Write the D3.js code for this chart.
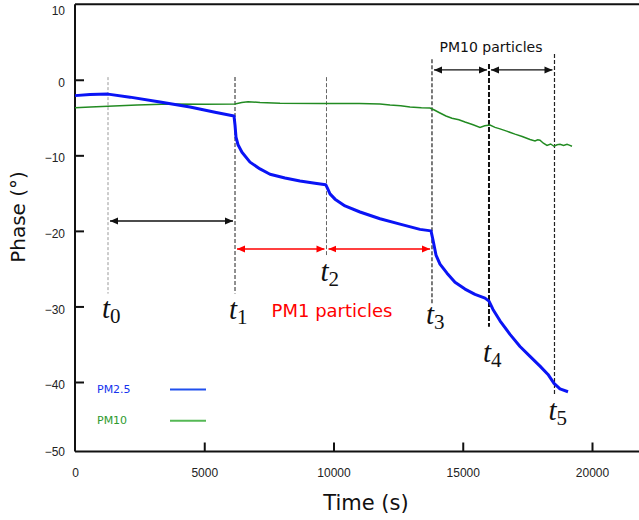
<!DOCTYPE html>
<html><head><meta charset="utf-8">
<script src="https://cdn.jsdelivr.net/npm/d3@7"></script>
<style>body{margin:0;background:#fff}svg{display:block}</style>
</head><body>
<script>
// ---- data ----
const xTicks = [0, 5000, 10000, 15000, 20000];
const yTicks = [10, 0, -10, -20, -30, -40, -50];
const pm25 = [
 [0,-2.1],[580,-1.96],[1277,-1.9],[2128,-2.3],[3288,-2.95],[4449,-3.6],[5416,-4.3],[6151,-4.8],
 [6190,-6.0],[6228,-7.6],[6306,-8.6],[6460,-9.6],[6770,-10.9],[7157,-11.8],[7544,-12.5],[8124,-13.0],
 [8704,-13.4],[9284,-13.7],[9700,-13.9],[9760,-14.3],[9865,-15.1],[10058,-15.8],[10445,-16.7],
 [11025,-17.5],[11799,-18.4],[12573,-19.1],[13346,-19.8],[13772,-20.0],[13849,-21.2],[13965,-23.2],
 [14120,-24.4],[14391,-25.6],[14700,-26.8],[15087,-27.7],[15474,-28.4],[15861,-28.9],[16015,-29.3],
 [16170,-30.4],[16441,-31.9],[16828,-33.7],[17215,-35.3],[17602,-36.6],[17988,-37.9],[18298,-39.0],
 [18530,-40.2],[18762,-41.0],[19072,-41.4]
];
const pm10 = [
 [0,-3.7],[600,-3.6],[1277,-3.5],[2400,-3.35],[3675,-3.2],[5000,-3.25],[6190,-3.2],[6450,-3.0],
 [6692,-2.9],[7157,-3.0],[7930,-3.1],[9478,-3.15],[11000,-3.15],[11799,-3.2],[12186,-3.35],
 [12600,-3.45],[12959,-3.6],[13400,-3.7],[13733,-3.75],[13900,-4.0],[14120,-4.4],[14350,-4.8],
 [14584,-5.1],[14850,-5.3],[15087,-5.6],[15400,-5.95],[15667,-6.3],[15850,-6.1],[16054,-6.0],
 [16250,-6.3],[16441,-6.5],[16700,-6.8],[17021,-7.2],[17300,-7.5],[17602,-7.9],[17795,-8.1],
 [17900,-7.95],[17988,-8.0],[18120,-8.4],[18259,-8.7],[18400,-8.5],[18530,-8.8],[18650,-8.6],
 [18762,-8.55],[18900,-8.7],[19033,-8.55],[19120,-8.65],[19226,-8.8]
];
const eventNames = ["0","1","2","3","4","5"];
const eventTimes = [1277, 6190, 9729, 13810, 16015, 18549];
const eventTop = [0.35, 0.35, 0.35, 2.7, 2.1, 3.4];
const eventBottom = [-28.3, -28.3, -23.2, -29.6, -32.7, -41.8];
const labelPhase = [-31.5, -31.6, -26.6, -32.3, -37.3, -45.5];
const legendNames = ["PM2.5", "PM10"];

// ---- layout ----
const W = 639, H = 520;
const svg = d3.select("body").append("svg").attr("width", W).attr("height", H);
const x = d3.scaleLinear().domain([0, 20000]).range([75, 592]);
const y = d3.scaleLinear().domain([-50, -40, 10]).range([451.5, 382, 4.2]);
const X0 = 75, XR = 645, YT = 4.2, YB = 451.5;

// frame
svg.append("line").attr("x1", X0).attr("x2", XR).attr("y1", YT).attr("y2", YT)
  .attr("stroke", "#111").attr("stroke-width", 2);

// axes
const xAxis = d3.axisBottom(x).tickValues(xTicks).tickSize(-9).tickPadding(17).tickFormat(d3.format("d"));
const gx = svg.append("g").attr("transform", `translate(0,${YB})`).call(xAxis);
gx.select(".domain").remove();
gx.append("line").attr("x1", X0).attr("x2", XR).attr("stroke", "#111").attr("stroke-width", 2);
const yAxis = d3.axisLeft(y).tickValues(yTicks).tickSize(-9).tickPadding(10).tickFormat(d3.format("d"));
const gy = svg.append("g").attr("transform", `translate(${X0},0)`).call(yAxis);
gy.select(".domain").remove();
gy.append("line").attr("y1", YT).attr("y2", YB).attr("stroke", "#111").attr("stroke-width", 2);
[gx, gy].forEach(g => {
  g.selectAll(".tick line").attr("stroke", "#111").attr("stroke-width", 2);
  g.selectAll(".tick text").attr("font-family", "Liberation Sans, Arial, sans-serif")
    .attr("font-size", 12).attr("fill", "#222");
});
gy.selectAll(".tick text").attr("dy", d => d === 10 ? "0.85em" : (d === -50 ? "0.32em" : "0.55em"));
gx.selectAll(".tick").filter(d => d === 0).select("line").remove();
gy.selectAll(".tick").filter(d => d === 10 || d === -50).select("line").remove();

// axis titles
svg.append("text").attr("x", 366).attr("y", 510).attr("text-anchor", "middle")
  .attr("font-family", "DejaVu Sans, sans-serif").attr("font-size", 21).attr("fill", "#111").text("Time (s)");
svg.append("text").attr("transform", "translate(25,217) rotate(-90)").attr("text-anchor", "middle")
  .attr("font-family", "DejaVu Sans, sans-serif").attr("font-size", 20).attr("fill", "#111").text("Phase  (°)");

// event lines
const evStyle = [
  {c: "#999", w: 1, d: "3,2"}, {c: "#555", w: 1.3, d: "4,2"}, {c: "#666", w: 1, d: "4,2"},
  {c: "#222", w: 1.2, d: "4,2"}, {c: "#111", w: 2, d: "5,2"}, {c: "#222", w: 1.2, d: "4,2"}
];
eventTimes.forEach((t, i) => {
  svg.append("line").attr("x1", x(t)).attr("x2", x(t)).attr("y1", y(eventTop[i])).attr("y2", y(eventBottom[i]))
    .attr("stroke", evStyle[i].c).attr("stroke-width", evStyle[i].w).attr("stroke-dasharray", evStyle[i].d);
});

// series
const line = d3.line().x(d => x(d[0])).y(d => y(d[1]));
svg.append("path").datum(pm10).attr("d", line).attr("fill", "none")
  .attr("stroke", "#228b22").attr("stroke-width", 1.5);
svg.append("path").datum(pm25).attr("d", line).attr("fill", "none")
  .attr("stroke", "#0a14f5").attr("stroke-width", 3).attr("stroke-linejoin", "round");

// arrows
const defs = svg.append("defs");
function marker(id, color) {
  defs.append("marker").attr("id", id).attr("viewBox", "0 -4 8 8").attr("refX", 8).attr("refY", 0)
    .attr("markerWidth", 8).attr("markerHeight", 8).attr("markerUnits", "userSpaceOnUse")
    .attr("orient", "auto-start-reverse")
    .append("path").attr("d", "M0,-3.5 L8,0 L0,3.5 Z").attr("fill", color);
}
marker("ab", "#111"); marker("ar", "#f00");
const arrows = [
  {a: 0, b: 1, p: -18.7, c: "#111", m: "ab", w: 1.5},
  {a: 1, b: 2, p: -22.4, c: "#f00", m: "ar", w: 1.3},
  {a: 2, b: 3, p: -22.4, c: "#f00", m: "ar", w: 1.3},
  {a: 3, b: 4, p: 1.3, c: "#111", m: "ab", w: 1.2},
  {a: 4, b: 5, p: 1.3, c: "#111", m: "ab", w: 1.2}
];
arrows.forEach(o => {
  svg.append("line").attr("x1", x(eventTimes[o.a]) + 2).attr("x2", x(eventTimes[o.b]) - 2)
    .attr("y1", y(o.p)).attr("y2", y(o.p)).attr("stroke", o.c).attr("stroke-width", o.w)
    .attr("marker-start", `url(#${o.m})`).attr("marker-end", `url(#${o.m})`);
});

// annotations
svg.append("text").attr("x", 491).attr("y", 52).attr("text-anchor", "middle")
  .attr("font-family", "DejaVu Sans, sans-serif").attr("font-size", 14).attr("fill", "#111").text("PM10 particles");
svg.append("text").attr("x", 332).attr("y", 317).attr("text-anchor", "middle")
  .attr("font-family", "DejaVu Sans, sans-serif").attr("font-size", 18).attr("fill", "#f00").text("PM1 particles");

// t labels
eventTimes.forEach((t, i) => {
  const tx = svg.append("text").attr("x", x(t) - 6).attr("y", y(labelPhase[i]))
    .attr("font-family", "Liberation Serif, serif").attr("fill", "#111");
  tx.append("tspan").attr("font-style", "italic").attr("font-size", 29).text("t");
  tx.append("tspan").attr("font-size", 21).attr("dy", 5).text(eventNames[i]);
});

// legend
const legColors = ["#1533ee", "#2e9a2e"];
const legLine = ["#2050ee", "#55b855"];
const legPhase = [-41.0, -45.5];
legendNames.forEach((n, i) => {
  svg.append("text").attr("x", 97).attr("y", y(legPhase[i]) + 4).attr("font-family", "DejaVu Sans, sans-serif")
    .attr("font-size", 11).attr("fill", legColors[i]).text(n);
  svg.append("line").attr("x1", 170).attr("x2", 206).attr("y1", y(legPhase[i]) + 0.5).attr("y2", y(legPhase[i]) + 0.5)
    .attr("stroke", legLine[i]).attr("stroke-width", 2);
});
</script>
</body></html>
